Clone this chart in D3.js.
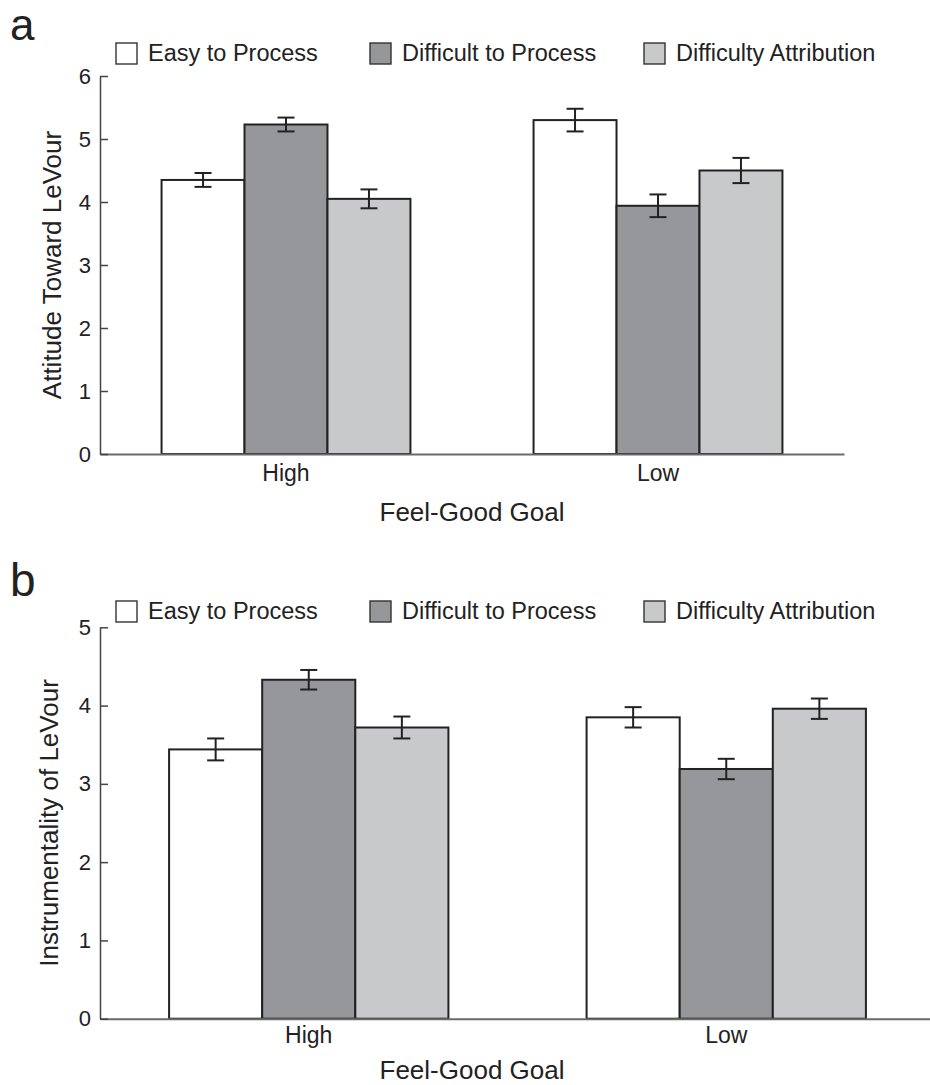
<!DOCTYPE html>
<html>
<head>
<meta charset="utf-8">
<script src="https://cdn.jsdelivr.net/npm/d3@7"></script>
<style>
  html, body { margin: 0; padding: 0; background: #fff; }
  svg { display: block; }
  text { font-family: "Liberation Sans", Arial, Helvetica, sans-serif; fill: #222; }
</style>
</head>
<body>
<svg id="chart" width="930" height="1085"></svg>
<script>
// ---------- DATA ----------
const groups = ["High", "Low"];
const series = ["Easy to Process", "Difficult to Process", "Difficulty Attribution"];
const seriesColors = ["#ffffff", "#96979b", "#c8c9cb"];

// Panel a: Attitude Toward LeVour (per series, values for [High, Low])
const attitudeEasy = [4.35, 5.30];
const attitudeDifficult = [5.23, 3.94];
const attitudeAttribution = [4.05, 4.50];
const attitudeEasyErr = [0.11, 0.18];
const attitudeDifficultErr = [0.11, 0.18];
const attitudeAttributionErr = [0.15, 0.20];
const attitudeTicks = [0, 1, 2, 3, 4, 5, 6];

// Panel b: Instrumentality of LeVour
const instrEasy = [3.44, 3.85];
const instrDifficult = [4.33, 3.19];
const instrAttribution = [3.72, 3.96];
const instrEasyErr = [0.14, 0.13];
const instrDifficultErr = [0.125, 0.13];
const instrAttributionErr = [0.14, 0.13];
const instrTicks = [0, 1, 2, 3, 4, 5];

// ---------- DRAW ----------
const svg = d3.select("#chart");

function panel(opts) {
  const g = svg.append("g");
  const means = opts.means, errs = opts.errs;

  const y = d3.scaleLinear().domain([0, d3.max(opts.ticks)]).range([opts.bottom, opts.top]);
  const x0 = d3.scaleBand().domain(groups).range([opts.left, opts.right]).padding(0);
  const x1 = d3.scaleBand().domain(series).range([0, x0.bandwidth()]).paddingInner(0).paddingOuter(0.742);

  // panel letter
  g.append("text").attr("x", 10).attr("y", opts.letterY)
    .style("font-size", opts.letterSize + "px").text(opts.letter);

  // legend
  const legendX = [116, 370, 644];
  series.forEach((s, i) => {
    g.append("rect").attr("x", legendX[i]).attr("y", opts.legendY - 18)
      .attr("width", 21).attr("height", 21)
      .attr("fill", seriesColors[i]).attr("stroke", "#333").attr("stroke-width", 1.4);
    g.append("text").attr("x", legendX[i] + 32).attr("y", opts.legendY)
      .style("font-size", "23.5px").text(s);
  });

  // bars
  series.forEach((s, si) => {
    groups.forEach((grp, gi) => {
      const v = means[si][gi];
      const bx = x0(grp) + x1(s);
      g.append("rect")
        .attr("x", bx).attr("y", y(v))
        .attr("width", x1.bandwidth()).attr("height", y(0) - y(v))
        .attr("fill", seriesColors[si]).attr("stroke", "#222").attr("stroke-width", 2);
    });
  });

  // error bars
  series.forEach((s, si) => {
    groups.forEach((grp, gi) => {
      const v = means[si][gi], e = errs[si][gi];
      const cx = x0(grp) + x1(s) + x1.bandwidth() / 2;
      const cap = 8.5;
      g.append("line").attr("x1", cx).attr("x2", cx).attr("y1", y(v + e)).attr("y2", y(v - e))
        .attr("stroke", "#222").attr("stroke-width", 2);
      [v + e, v - e].forEach(val => {
        g.append("line").attr("x1", cx - cap).attr("x2", cx + cap).attr("y1", y(val)).attr("y2", y(val))
          .attr("stroke", "#222").attr("stroke-width", 2);
      });
    });
  });

  // x axis
  const xAxis = g.append("g").attr("transform", `translate(0,${y(0)})`)
    .call(d3.axisBottom(x0).tickSize(0).tickSizeOuter(0).tickPadding(opts.catPad));
  xAxis.select(".domain").attr("stroke", "#6a6a6a").attr("stroke-width", 2);
  xAxis.selectAll("text").style("font-size", "23px").attr("fill", "#222");

  // y axis
  const yAxis = g.append("g").attr("transform", `translate(${opts.left},0)`)
    .call(d3.axisLeft(y).tickValues(opts.ticks).tickFormat(d3.format("d"))
      .tickSizeInner(-8).tickSizeOuter(0).tickPadding(9));
  yAxis.select(".domain").attr("stroke", "#444").attr("stroke-width", 1.5);
  yAxis.selectAll(".tick line").attr("stroke", "#444").attr("stroke-width", 1.5);
  yAxis.selectAll("text").style("font-size", "22px").attr("fill", "#222");

  // axis titles
  g.append("text").attr("x", (opts.left + 844) / 2).attr("y", opts.titleY)
    .attr("text-anchor", "middle").style("font-size", "26px").text("Feel-Good Goal");
  g.append("text")
    .attr("transform", `translate(${opts.yLabelX},${(opts.top + opts.bottom) / 2}) rotate(-90)`)
    .attr("text-anchor", "middle").style("font-size", "26px").text(opts.yLabel);
}

panel({
  letter: "a", letterY: 40, letterSize: 44, legendY: 61,
  means: [attitudeEasy, attitudeDifficult, attitudeAttribution],
  errs: [attitudeEasyErr, attitudeDifficultErr, attitudeAttributionErr],
  ticks: attitudeTicks,
  top: 76, bottom: 454, left: 100, right: 844,
  catPad: 11, titleY: 521,
  yLabel: "Attitude Toward LeVour", yLabelX: 61
});

panel({
  letter: "b", letterY: 596, letterSize: 46, legendY: 619,
  means: [instrEasy, instrDifficult, instrAttribution],
  errs: [instrEasyErr, instrDifficultErr, instrAttributionErr],
  ticks: instrTicks,
  top: 627.3, bottom: 1018.7, left: 100, right: 935,
  catPad: 8, titleY: 1079,
  yLabel: "Instrumentality of LeVour", yLabelX: 58
});
</script>
</body>
</html>
